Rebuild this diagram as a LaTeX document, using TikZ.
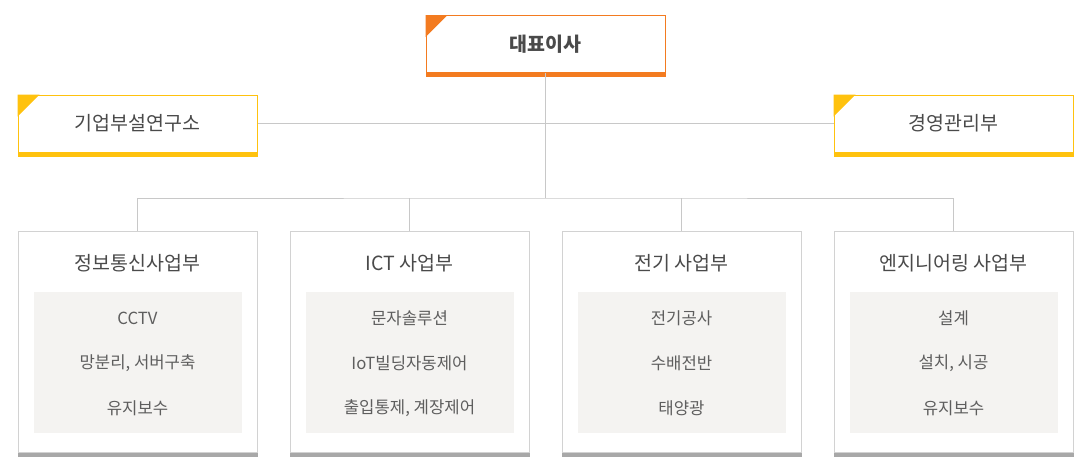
\documentclass[tikz,border=0pt]{standalone}
\usepackage{fontspec}
\setmainfont{Noto Sans CJK KR}
\usetikzlibrary{shadows}
\definecolor{orangeC}{HTML}{F37B20}
\definecolor{yellowC}{HTML}{FFC20E}
\definecolor{lineC}{HTML}{C8C8C8}
\definecolor{borderC}{HTML}{D2D2D2}
\definecolor{barC}{HTML}{A8A8A8}
\definecolor{innerC}{HTML}{F4F3F1}
\definecolor{titleC}{HTML}{4A4A4A}
\definecolor{itemC}{HTML}{5E5E5E}
\tikzset{
  topbox/.style={draw=#1, line width=1pt, fill=white, minimum width=239pt, minimum height=57pt,
    inner sep=0pt, font=\fontsize{19.5}{22}\selectfont, text=titleC,
    drop shadow={opacity=0.08, shadow xshift=0pt, shadow yshift=-2pt}},
  unitbox/.style={draw=borderC, line width=1pt, fill=white, minimum width=239pt, minimum height=221pt,
    inner sep=0pt, drop shadow={opacity=0.08, shadow xshift=0pt, shadow yshift=-2pt}},
  innerbox/.style={fill=innerC, minimum width=208pt, minimum height=141pt, inner sep=0pt},
  unittitle/.style={font=\fontsize{19.5}{22}\selectfont, text=titleC},
  itemtext/.style={font=\fontsize{16.7}{19}\selectfont, text=itemC},
  conn/.style={draw=lineC, line width=1pt},
}
\begin{document}
\begin{tikzpicture}[x=1pt,y=-1pt]
\useasboundingbox (0,0) rectangle (1092,471);
% top level
\node[topbox=orangeC, font=\fontsize{19.5}{22}\selectfont\bfseries] (ceo) at (545.5,44) {대표이사};
\fill[orangeC] (ceo.north west) -- ++(22,0) -- ++(-22,22) -- cycle;
\fill[orangeC] ([yshift=-4pt]ceo.south west) rectangle (ceo.south east);
\node[topbox=yellowC] (lab) at (137.5,123.5) {기업부설연구소};
\fill[yellowC] (lab.north west) -- ++(22,0) -- ++(-22,22) -- cycle;
\fill[yellowC] ([yshift=-4pt]lab.south west) rectangle (lab.south east);
\node[topbox=yellowC] (mgmt) at (953.5,123.5) {경영관리부};
\fill[yellowC] (mgmt.north west) -- ++(22,0) -- ++(-22,22) -- cycle;
\fill[yellowC] ([yshift=-4pt]mgmt.south west) rectangle (mgmt.south east);
% units
\foreach \n/\x/\t/\a/\b/\c in {
  u1/137.5/정보통신사업부/CCTV/{망분리, 서버구축}/유지보수,
  u2/409.5/ICT 사업부/문자솔루션/IoT빌딩자동제어/{출입통제, 계장제어},
  u3/681.5/전기 사업부/전기공사/수배전반/태양광,
  u4/953.5/엔지니어링 사업부/설계/{설치, 시공}/유지보수}{
  \node[unitbox] (\n) at (\x,341.5) {};
  \fill[barC] ([yshift=-4pt]\n.south west) rectangle (\n.south east);
  \node[unittitle] (\n t) at (\x,263) {\t};
  \node[innerbox] (\n i) at (\x,362.5) {};
  \node[itemtext] (\n a) at (\x,318) {\a};
  \node[itemtext] (\n b) at (\x,363) {\b};
  \node[itemtext] (\n c) at (\x,408) {\c};
}
% connectors
\coordinate (j2) at (545.5,198);
\draw[conn] (lab.east) -- (mgmt.west);
\draw[conn] (ceo.south) -- (j2);
\draw[conn] (u1.north) |- (j2) -| (u4.north);
\draw[conn] (u2.north) -- (u2.north |- j2);
\draw[conn] (u3.north) -- (u3.north |- j2);
\end{tikzpicture}
\end{document}
